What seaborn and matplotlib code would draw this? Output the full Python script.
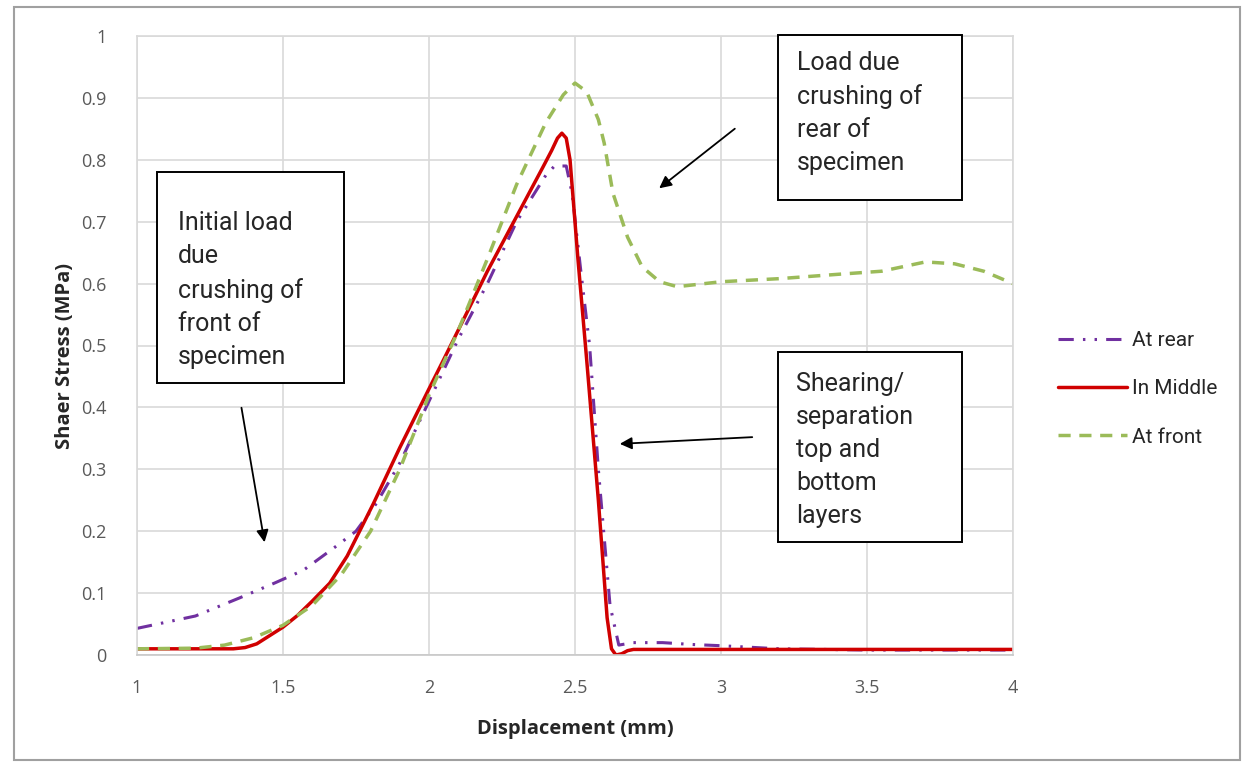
import matplotlib
matplotlib.use("Agg")
import matplotlib.pyplot as plt
import seaborn as sns
import pandas as pd
from matplotlib.patches import Rectangle

# ---- data ----
rear_x = [1.0, 1.2, 1.35, 1.47, 1.57, 1.68, 1.75, 1.82, 1.9, 2.0, 2.1, 2.2, 2.3, 2.4, 2.43, 2.47,
          2.49, 2.52, 2.55, 2.58, 2.62, 2.65, 2.7, 2.8, 2.9, 3.0, 3.2, 3.5, 4.0]
rear_y = [0.043, 0.063, 0.092, 0.116, 0.137, 0.175, 0.2, 0.245, 0.31, 0.41, 0.51, 0.6, 0.7, 0.775, 0.79, 0.79,
          0.746, 0.62, 0.5, 0.3, 0.08, 0.016, 0.02, 0.02, 0.017, 0.015, 0.01, 0.008, 0.008]

mid_x = [1.0, 1.33, 1.37, 1.41, 1.45, 1.5, 1.55, 1.6, 1.66, 1.72, 1.81, 1.9, 2.0, 2.05, 2.2, 2.39, 2.42, 2.44,
         2.455, 2.47, 2.483, 2.51, 2.54, 2.58, 2.61, 2.625, 2.64, 2.66, 2.68, 2.70, 3.0, 4.0]
mid_y = [0.01, 0.01, 0.012, 0.018, 0.03, 0.045, 0.064, 0.087, 0.116, 0.16, 0.245, 0.335, 0.43, 0.477, 0.62, 0.788, 0.815, 0.835,
         0.843, 0.835, 0.80, 0.64, 0.477, 0.25, 0.06, 0.01, 0.0, 0.002, 0.007, 0.009, 0.009, 0.009]

front_x = [1.0, 1.2, 1.3, 1.4, 1.5, 1.6, 1.7, 1.8, 1.9, 2.0, 2.1, 2.2, 2.3, 2.4, 2.46, 2.5, 2.54, 2.58, 2.6,
           2.63, 2.68, 2.73, 2.79, 2.85, 3.0, 3.2, 3.4, 3.55, 3.7, 3.8, 3.9, 4.0]
front_y = [0.01, 0.011, 0.016, 0.028, 0.048, 0.08, 0.13, 0.2, 0.3, 0.42, 0.524, 0.64, 0.76, 0.86, 0.905, 0.924, 0.91, 0.865, 0.827,
           0.746, 0.675, 0.627, 0.603, 0.595, 0.603, 0.608, 0.615, 0.62, 0.635, 0.632, 0.62, 0.60]

series_names = ["At rear", "In Middle", "At front"]
x_ticks = [1, 1.5, 2, 2.5, 3, 3.5, 4]
x_tick_labels = ["1", "1.5", "2", "2.5", "3", "3.5", "4"]
y_ticks = [0, 0.1, 0.2, 0.3, 0.4, 0.5, 0.6, 0.7, 0.8, 0.9, 1.0]
y_tick_labels = ["0", "0.1", "0.2", "0.3", "0.4", "0.5", "0.6", "0.7", "0.8", "0.9", "1"]

ann_texts = ["Initial load\ndue\ncrushing of\nfront of\nspecimen",
             "Load due\ncrushing of\nrear of\nspecimen",
             "Shearing/\nseparation\ntop and\nbottom\nlayers"]

# ---- plot ----
sns.set_theme(style="white")
plt.rcParams['font.family'] = ['Open Sans', 'DejaVu Sans']

W, H = 1245, 768
fig = plt.figure(figsize=(W / 100, H / 100), dpi=100)
L, R, T, B = 137, 1013, 36, 655
ax = fig.add_axes([L / W, 1 - B / H, (R - L) / W, (B - T) / H])

fig.patches.append(Rectangle((14 / W, 1 - 760 / H), (1240 - 14) / W, (760 - 7) / H,
                             transform=fig.transFigure, fill=False, edgecolor="#a0a0a0", lw=1.5))

df_rear = pd.DataFrame({"x": rear_x, "y": rear_y})
df_mid = pd.DataFrame({"x": mid_x, "y": mid_y})
df_front = pd.DataFrame({"x": front_x, "y": front_y})

sns.lineplot(data=df_rear, x="x", y="y", ax=ax, color="#7030A0", lw=2.2,
             label=series_names[0], linestyle=(0, (5, 3, 0.8, 3, 0.8, 3)), sort=False)
sns.lineplot(data=df_mid, x="x", y="y", ax=ax, color="#D00000", lw=2.5,
             label=series_names[1], sort=False)
sns.lineplot(data=df_front, x="x", y="y", ax=ax, color="#9BBB59", lw=2.5,
             label=series_names[2], linestyle=(0, (3.5, 2.5)), sort=False)

ax.set_xlim(1, 4)
ax.set_ylim(0, 1)
ax.set_xticks(x_ticks)
ax.set_xticklabels(x_tick_labels)
ax.set_yticks(y_ticks)
ax.set_yticklabels(y_tick_labels)
ax.tick_params(axis="x", labelsize=13, colors="#595959", length=0, pad=17)
ax.tick_params(axis="y", labelsize=13, colors="#595959", length=0, pad=22)
ax.grid(True, color="#d9d9d9", lw=1.2)
ax.set_axisbelow(True)
for s in ax.spines.values():
    s.set_color("#d9d9d9")
    s.set_linewidth(1.2)
ax.spines["bottom"].set_color("#c8c8c8")

ax.set_xlabel("Displacement (mm)", fontsize=14.5, fontweight="bold", color="#262626", labelpad=16)
ax.set_ylabel("Shaer Stress (MPa)", fontsize=14.5, fontweight="bold", color="#262626")
ax.yaxis.set_label_coords(-(L - 75) / (R - L), (B - 356) / (B - T))

leg = ax.legend(loc="center left", bbox_to_anchor=(1.03, (B - 389) / (B - T)), frameon=False,
                prop={"family": "Roboto", "size": 15},
                handlelength=3.3, labelspacing=1.4, handletextpad=0.25)
for t in leg.get_texts():
    t.set_color("#262626")


def dx(px):
    return (px - L) / (R - L) * 3 + 1


def dy(py):
    return (B - py) / (B - T)


boxes = [(157, 172, 344, 383, 178, 290), (778, 35, 962, 200, 797, 113), (778, 352, 962, 542, 796, 450)]
for (x0, y0, x1, y1, tx, cy), txt in zip(boxes, ann_texts):
    ax.add_patch(Rectangle((dx(x0), dy(y1)), dx(x1) - dx(x0), dy(y0) - dy(y1),
                           fc="white", ec="black", lw=1.4, zorder=5, clip_on=False))
    ax.text(dx(tx), dy(cy), txt, fontsize=18, family="Roboto", va="center", ha="left",
            linespacing=1.48, color="#262626", zorder=6)

arrow = dict(arrowstyle="-|>", color="#000000", lw=1.3, mutation_scale=18)
ax.annotate("", xy=(dx(265), dy(545)), xytext=(dx(241), dy(405)), arrowprops=arrow)
ax.annotate("", xy=(dx(657), dy(190)), xytext=(dx(737), dy(127)), arrowprops=arrow)
ax.annotate("", xy=(dx(617), dy(444)), xytext=(dx(755), dy(437)), arrowprops=arrow)

fig.savefig("out.png", dpi=100)
